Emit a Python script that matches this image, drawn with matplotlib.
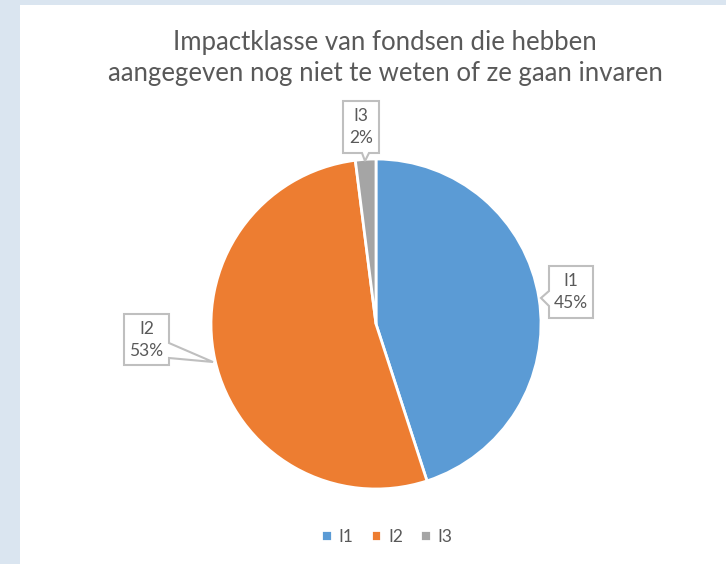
import matplotlib.pyplot as plt
from matplotlib.patches import Polygon, Rectangle

# data
labels = ["I1", "I2", "I3"]
values = [45, 53, 2]
colors = ["#5B9BD5", "#ED7D31", "#A5A5A5"]
title = "Impactklasse van fondsen die hebben\naangegeven nog niet te weten of ze gaan invaren"

W, H = 726, 564
plt.rcParams['font.family'] = ['Lato', 'DejaVu Sans']
txt_col = "#595959"

fig = plt.figure(figsize=(W / 100, H / 100), dpi=100)
fig.patch.set_facecolor("#dae5f0")

# axes in pixel units (y flipped so coordinates read like the image)
ax = fig.add_axes([0, 0, 1, 1])
ax.add_patch(Rectangle((20, 5), W - 20, H - 5, facecolor="white", edgecolor="none", zorder=0))

# y axis is inverted: start at -90 in data = top on screen, ccw in data = clockwise on screen
wedges, _ = ax.pie(values, colors=colors, startangle=-90, counterclock=True,
                   center=(376, 324), radius=165, frame=True,
                   wedgeprops=dict(edgecolor="white", linewidth=2))
ax.set_xlim(0, W)
ax.set_ylim(H, 0)
ax.set_aspect("equal")
ax.axis("off")

ax.text(385, 58, title, ha="center", va="center", fontsize=18.5, color=txt_col,
        linespacing=1.3)


def callout(pts, cx, cy, text):
    ax.add_patch(Polygon(pts, closed=True, facecolor="white", edgecolor="#bfbfbf",
                         linewidth=1.5, zorder=5))
    ax.text(cx, cy, text, ha="center", va="center", fontsize=12.5, color=txt_col,
            linespacing=1.45, zorder=6)


# I1 box with notch on the left
callout([(549, 266), (593, 266), (593, 318), (549, 318), (549, 306), (541, 298), (549, 291)],
        571, 292, f"{labels[0]}\n{values[0]}%")
# I2 box with tail to the right
callout([(124, 314), (169, 314), (169, 343), (213, 362), (169, 358), (169, 365), (124, 365)],
        146.5, 340, f"{labels[1]}\n{values[1]}%")
# I3 box with tail down
callout([(343, 101), (379, 101), (379, 153), (369, 153), (365, 161), (362, 153), (343, 153)],
        361, 127, f"{labels[2]}\n{values[2]}%")

fig.legend(wedges, labels, loc="center", bbox_to_anchor=(387 / W, 1 - 537 / H), ncol=3,
           frameon=False, fontsize=12.5, labelcolor=txt_col, handlelength=0.6,
           handleheight=0.6, handletextpad=0.4, columnspacing=1.0)

fig.savefig("out.png", dpi=100, facecolor=fig.get_facecolor())
